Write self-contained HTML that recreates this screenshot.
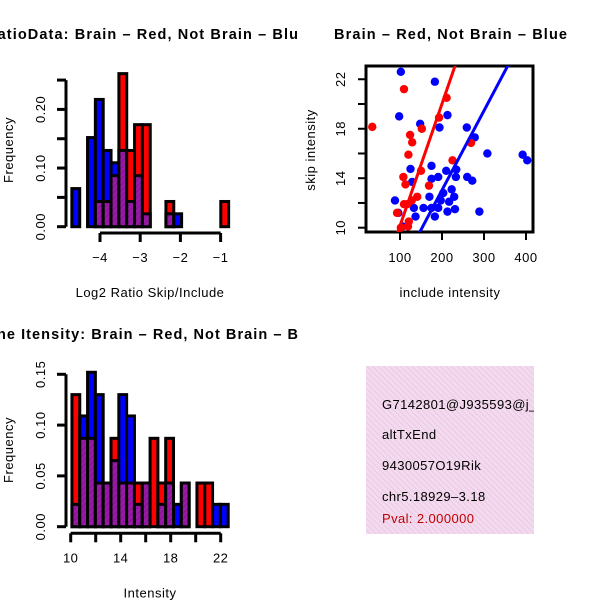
<!DOCTYPE html>
<html><head><meta charset="utf-8"><style>
html,body{margin:0;padding:0;background:#fff;}
svg{display:block;font-family:"Liberation Sans",sans-serif;}
</style></head><body>
<svg id="chart" width="600" height="600" viewBox="0 0 600 600" xmlns="http://www.w3.org/2000/svg">
<defs>
<pattern id="hatchP" width="4" height="4" patternUnits="userSpaceOnUse" patternTransform="rotate(45)">
<rect width="4" height="4" fill="#9a1aa6"/><line x1="0" y1="0" x2="0" y2="4" stroke="#7a1090" stroke-width="1.5"/>
</pattern>
<pattern id="hatchPink" width="4" height="4" patternUnits="userSpaceOnUse" patternTransform="rotate(-45)">
<rect width="4" height="4" fill="#f6d8f2"/><line x1="0" y1="0" x2="0" y2="4" stroke="#d8cccc" stroke-width="1.3"/>
</pattern>
<clipPath id="clipL"><rect x="0" y="0" width="300" height="600"/></clipPath>
<clipPath id="clipS"><rect x="366" y="66" width="167" height="166"/></clipPath>
<clipPath id="clipBox"><rect x="366" y="366" width="168" height="168"/></clipPath>
</defs>
<g id="g1"></g>
<g id="g2"></g>
<g id="g3"></g>
<g>
<rect x="366" y="366" width="168" height="168" fill="url(#hatchPink)"/>
<g clip-path="url(#clipBox)" font-size="13" letter-spacing="0.4">
<text x="382" y="409">G7142801@J935593@j_at</text>
<text x="382" y="439">altTxEnd</text>
<text x="382" y="470">9430057O19Rik</text>
<text x="382" y="501">chr5.18929–3.18</text>
<text x="382" y="523" fill="#c00000">Pval: 2.000000</text>
</g>
</g>
</svg>
<script>
// ---- Histogram 1 data (Log2 ratio) ----
const h1Start = -4.7;
const h1Width = 0.195;
const h1Blue = [0.065,0,0.152,0.217,0.130,0.109,0.130,0.043,0.087,0.022,0,0,0.022,0.022,0,0,0,0,0,0];
const h1Red  = [0,0,0,0.043,0.043,0.087,0.261,0.130,0.174,0.174,0,0,0.043,0,0,0,0,0,0,0.043];
const h1XTicks = [-4,-3,-2,-1];
const h1XLabels = ["−4","−3","−2","−1"];
const h1YTicks = [0,0.05,0.10,0.15,0.20,0.25];
const h1YLabels = ["0.00","","0.10","","0.20",""];

// ---- Histogram 2 data (Intensity) ----
const h2Start = 10.1;
const h2Width = 0.625;
const h2Blue = [0.022,0.109,0.152,0.130,0.043,0.065,0.130,0.109,0.022,0.043,0,0.022,0.043,0.022,0.043,0,0,0,0.022,0.022];
const h2Red  = [0.130,0.087,0.087,0.043,0.043,0.087,0.043,0.043,0.043,0.043,0.087,0.043,0.087,0,0.043,0,0.043,0.043,0,0];
const h2XTicks = [10,12,14,16,18,20,22];
const h2XLabels = ["10","","14","","18","","22"];
const h2YTicks = [0,0.05,0.10,0.15];
const h2YLabels = ["0.00","0.05","0.10","0.15"];

// ---- Scatter data ----
const redX = [34,109.5,211,193,152,124,129,120,225,269,108,113,150,169,141,128,109.5,117,93,121,119,102];
const redY = [18.15,21.2,20.5,18.9,18.0,17.5,16.9,15.9,15.45,16.85,14.1,13.5,14.6,13.4,12.5,12.2,11.9,11.9,11.2,10.5,10.1,10.0];
const blueX = [102,183,98,213,148,194,259,278,308,392,403,175,125,210,234,233,260,272,191,175,129,223,203,229,170,217,197,88,133,156,175,191,231,213,289,96,137,183,106];
const blueY = [22.6,21.8,19.0,19.1,18.4,18.1,18.1,17.3,16.0,15.9,15.45,15.0,14.75,14.6,14.7,14.1,14.1,13.8,14.1,13.95,13.7,13.1,12.8,12.5,12.5,12.1,12.2,12.2,11.6,11.6,11.6,11.6,11.5,11.3,11.3,11.2,10.9,10.9,10.1];
const redFit = [0.28, 0.0987];   // intercept, slope
const blueFit = [0.2, 0.0642];
const sXTicks = [100,200,300,400];
const sYTicks = [10,12,14,16,18,20,22];
const sYLabels = ["10","","14","","18","","22"];

const NS = "http://www.w3.org/2000/svg";
const FS = 13, LS = 0.5;
function mk(tag, attrs, parent){
  const e = document.createElementNS(NS, tag);
  for (const k in attrs) e.setAttribute(k, attrs[k]);
  parent.appendChild(e);
  return e;
}

function drawHist(g, o){
  const sx = v => o.x0 + (v - o.xv0) * o.xs;
  const sy = v => o.yBase - v * o.ys;
  const n = Math.max(o.blue.length, o.red.length);
  for (let i = 0; i < n; i++){
    const b = o.blue[i] || 0, r = o.red[i] || 0;
    const xa = sx(o.start + i * o.width), xb = sx(o.start + (i + 1) * o.width);
    const mx = Math.max(b, r), mn = Math.min(b, r);
    if (mx > 0){
      const e = mk("rect", {x: xa, y: sy(mx), width: xb - xa, height: sy(0) - sy(mx), fill: b >= r ? "#0000ff" : "#ff0000", stroke: "#000", "stroke-width": 3}, g);
      
      
    }
    if (mn > 0){
      const e = mk("rect", {x: xa, y: sy(mn), width: xb - xa, height: sy(0) - sy(mn), fill: "url(#hatchP)", stroke: "#000", "stroke-width": 3}, g);
      
      
    }
  }
  const yt = o.yTicks;
  const ya = mk("line", {x1: 66, x2: 66, y1: sy(yt[0]), y2: sy(yt[yt.length-1]), stroke: "#000", "stroke-width": 3}, g);
  
  
  yt.forEach((t, i) => {
    mk("line", {x1: 57, x2: 66, y1: sy(t), y2: sy(t), stroke: "#000", "stroke-width": 3}, g);
    if (o.yLabels[i]){
      const tx = mk("text", {x: 0, y: 0, "font-size": FS, "letter-spacing": LS, "text-anchor": "middle", transform: `translate(45,${sy(t)}) rotate(-90)`}, g);
      tx.textContent = o.yLabels[i];
      
      
    }
  });
  const xt = o.xTicks;
  const xa = mk("line", {x1: sx(xt[0]), x2: sx(xt[xt.length-1]), y1: o.axisY, y2: o.axisY, stroke: "#000", "stroke-width": 3}, g);
  
  
  xt.forEach((t, i) => {
    mk("line", {x1: sx(t), x2: sx(t), y1: o.axisY, y2: o.axisY + 9, stroke: "#000", "stroke-width": 3}, g);
    const lab = o.xLabels[i];
    if (lab){
      const tx = mk("text", {x: sx(t), y: o.axisY + 29, "font-size": FS, "letter-spacing": LS, "text-anchor": "middle"}, g);
      tx.textContent = lab;
      
      
    }
  });
  const yl = mk("text", {x: 0, y: 0, "font-size": FS, "letter-spacing": LS, "text-anchor": "middle", transform: `translate(13,${o.yLabelY}) rotate(-90)`}, g);
  yl.textContent = "Frequency";
  
  
  const xl = mk("text", {x: 150, y: o.axisY + 64, "font-size": FS, "letter-spacing": LS, "text-anchor": "middle"}, g);
  xl.textContent = o.xTitle;
  
  
  const tt = mk("text", {x: o.titleX, y: o.titleY, "font-size": 14.5, "font-weight": "bold", textLength: o.titleLen, lengthAdjust: "spacing"}, g);
  tt.textContent = o.title;
  
  
}

drawHist(document.getElementById("g1"), {
  start: h1Start, width: h1Width, blue: h1Blue, red: h1Red,
  x0: 100, xv0: -4, xs: 40.2, yBase: 226.7, ys: 586.5,
  xTicks: h1XTicks, xLabels: h1XLabels, yTicks: h1YTicks, yLabels: h1YLabels,
  axisY: 233, yLabelY: 150, xTitle: "Log2 Ratio Skip/Include",
  title: "RatioData: Brain – Red, Not Brain – Blu", titleY: 39, titleX: -14, titleLen: 312
});
drawHist(document.getElementById("g3"), {
  start: h2Start, width: h2Width, blue: h2Blue, red: h2Red,
  x0: 70.7, xv0: 10, xs: 12.5, yBase: 526.7, ys: 1016,
  xTicks: h2XTicks, xLabels: h2XLabels, yTicks: h2YTicks, yLabels: h2YLabels,
  axisY: 533.3, yLabelY: 450, xTitle: "Intensity",
  title: "ne Itensity: Brain – Red, Not Brain – B", titleY: 339, titleX: -3, titleLen: 301
});

(function(){
  const g = document.getElementById("g2");
  const sx = v => 400 + (v - 100) * 0.42;
  const sy = v => 227.7 - (v - 10) * 12.37;
  const box = mk("rect", {x: 366, y: 66, width: 167, height: 166, fill: "none", stroke: "#000", "stroke-width": 3}, g);
  
  
  const pts = mk("g", {"clip-path": "url(#clipS)"}, g);
  blueX.forEach((x, i) => {
    const c = mk("circle", {cx: sx(x), cy: sy(blueY[i]), r: 4.2, fill: "#0000ff"}, pts);
    
    
  });
  redX.forEach((x, i) => {
    const c = mk("circle", {cx: sx(x), cy: sy(redY[i]), r: 4.2, fill: "#ff0000"}, pts);
    
    
  });
  [[redFit, "#ff0000", "fit-line-brain"], [blueFit, "#0000ff", "fit-line-not-brain"]].forEach(([f, col, nm]) => {
    const l = mk("line", {x1: sx(0), y1: sy(f[0]), x2: sx(500), y2: sy(f[0] + f[1] * 500), stroke: col, "stroke-width": 3}, pts);
    
    
  });
  sXTicks.forEach(t => {
    mk("line", {x1: sx(t), x2: sx(t), y1: 232, y2: 240, stroke: "#000", "stroke-width": 2}, g);
    const tx = mk("text", {x: sx(t), y: 262, "font-size": FS, "letter-spacing": LS, "text-anchor": "middle"}, g);
    tx.textContent = String(t);
    
    
  });
  sYTicks.forEach((t, i) => {
    mk("line", {x1: 358, x2: 366, y1: sy(t), y2: sy(t), stroke: "#000", "stroke-width": 2}, g);
    if (sYLabels[i]){
      const tx = mk("text", {x: 0, y: 0, "font-size": FS, "letter-spacing": LS, "text-anchor": "middle", transform: `translate(345,${sy(t)}) rotate(-90)`}, g);
      tx.textContent = sYLabels[i];
      
      
    }
  });
  const yl = mk("text", {x: 0, y: 0, "font-size": FS, "letter-spacing": LS, "text-anchor": "middle", transform: "translate(315,150) rotate(-90)"}, g);
  yl.textContent = "skip intensity";
  
  
  const xl = mk("text", {x: 450, y: 297, "font-size": FS, "letter-spacing": LS, "text-anchor": "middle"}, g);
  xl.textContent = "include intensity";
  
  
  const tt = mk("text", {x: 334, y: 39, "font-size": 14.5, "font-weight": "bold", textLength: 233, lengthAdjust: "spacing"}, g);
  tt.textContent = "Brain – Red, Not Brain – Blue";
  
  
})();
</script>
</body></html>
